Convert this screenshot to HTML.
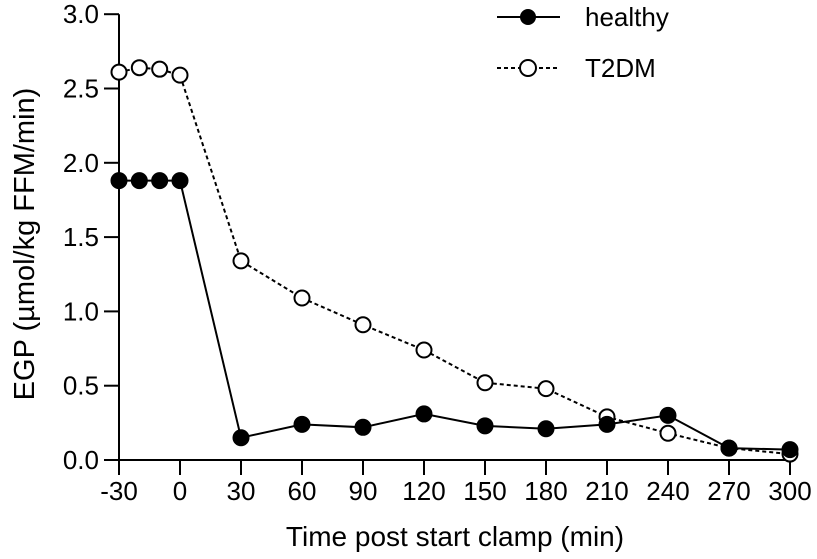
<!DOCTYPE html>
<html><head><meta charset="utf-8"><style>
body{margin:0;background:#fff}
svg{font-family:"Liberation Sans",sans-serif}
</style></head><body>
<svg id="chart" width="817" height="554">
<g id="axes"></g><g id="series"></g>
<g>
 <g>
  <line x1="497" y1="17" x2="560" y2="17" stroke="#000" stroke-width="2"/>
  <circle cx="528" cy="17" r="8" fill="#000"/>
  <text x="585" y="26" font-size="26">healthy</text>
 </g>
 <g>
  <line x1="497" y1="68" x2="560" y2="68" stroke="#000" stroke-width="2" stroke-dasharray="4,3"/>
  <circle cx="528" cy="68" r="8" fill="#fff" stroke="#000" stroke-width="2"/>
  <text x="585" y="77" font-size="26">T2DM</text>
 </g>
</g>
<text x="455" y="546" font-size="28" text-anchor="middle">Time post start clamp (min)</text>
<text transform="translate(34,244) rotate(-90)" font-size="29" text-anchor="middle">EGP (µmol/kg FFM/min)</text>
</svg>
<script>
const times=[-30,-20,-10,0,30,60,90,120,150,180,210,240,270,300];
const healthy=[1.88,1.88,1.88,1.88,0.15,0.24,0.22,0.31,0.23,0.21,0.24,0.30,0.08,0.07];
const t2dm=[2.61,2.64,2.63,2.59,1.34,1.09,0.91,0.74,0.52,0.48,0.29,0.18,0.08,0.04];
const xTicks=[-30,0,30,60,90,120,150,180,210,240,270,300];
const yTicks=[0,0.5,1.0,1.5,2.0,2.5,3.0];
const yTickLabels=["0.0","0.5","1.0","1.5","2.0","2.5","3.0"];
const NS="http://www.w3.org/2000/svg";
const x=t=>180+t*61/30;
const y=v=>460-v*148.6;
const axes=document.getElementById('axes'),ser=document.getElementById('series');
function mk(tag,attrs,parent){const e=document.createElementNS(NS,tag);for(const k in attrs)e.setAttribute(k,attrs[k]);parent.appendChild(e);return e;}
let l=mk('line',{x1:x(-30),y1:y(0),x2:x(300),y2:y(0),stroke:'#000','stroke-width':2},axes);


l=mk('line',{x1:x(-30),y1:y(0),x2:x(-30),y2:y(3),stroke:'#000','stroke-width':2},axes);


xTicks.forEach(t=>{mk('line',{x1:x(t),y1:y(0),x2:x(t),y2:y(0)+15,stroke:'#000','stroke-width':2},axes);
 const tx=mk('text',{x:x(t),y:y(0)+40,'font-size':26,'text-anchor':'middle'},axes);tx.textContent=t;
 
 });
yTicks.forEach((v,i)=>{mk('line',{x1:x(-30)-15,y1:y(v),x2:x(-30),y2:y(v),stroke:'#000','stroke-width':2},axes);
 const tx=mk('text',{x:x(-30)-20,y:y(v)+9,'font-size':26,'text-anchor':'end'},axes);tx.textContent=yTickLabels[i];
 
 });
function draw(vals,name,dash,fill){
 const p=mk('polyline',{points:times.map((t,i)=>x(t)+','+y(vals[i])).join(' '),fill:'none',stroke:'#000','stroke-width':2,'stroke-dasharray':dash},ser);
 
 
 times.forEach((t,i)=>{const c=mk('circle',{cx:x(t),cy:y(vals[i]),r:7.5,fill:fill,stroke:'#000','stroke-width':2},ser);
  
  });
}
draw(t2dm,'t2dm','4,3','#fff');
draw(healthy,'healthy','none','#000');
</script>
</body></html>
